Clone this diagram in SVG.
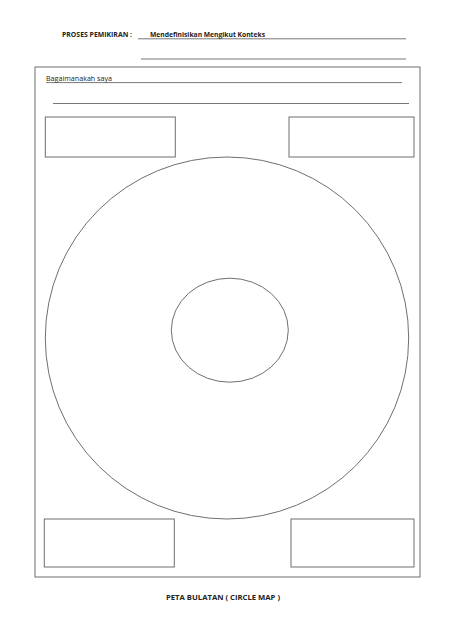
<svg xmlns="http://www.w3.org/2000/svg" width="452" height="640" viewBox="0 0 452 640">
<style>
.shape{fill:none;stroke:#6f6f6f;stroke-width:1}
.rule{stroke:#555;stroke-width:0.8}
.t{font-family:"Open Sans","Liberation Sans",sans-serif;fill:#222}
.b{font-weight:bold}
</style>
<rect width="452" height="640" fill="#fff"/>
<g id="header">
<text class="t b" x="62" y="37" font-size="6.8" textLength="70" lengthAdjust="spacingAndGlyphs">PROSES PEMIKIRAN  :</text>
<text class="t b" x="150" y="37" font-size="6.8" textLength="115" lengthAdjust="spacingAndGlyphs">Mendefinisikan Mengikut Konteks</text>
<line class="rule" x1="138" y1="38.8" x2="406" y2="38.8"/>
<line class="rule" x1="141" y1="59" x2="406" y2="59"/>
</g>
<rect id="frame" class="shape" x="35" y="67" width="385" height="510"/>
<g id="question">
<text class="t" x="46" y="81" font-size="6.8" textLength="66" lengthAdjust="spacingAndGlyphs">Bagaimanakah saya</text>
<line class="rule" x1="46" y1="82.6" x2="402" y2="82.6"/>
<line class="rule" x1="53" y1="103.5" x2="409" y2="103.5"/>
</g>
<g id="box-top-left"><rect class="shape" x="45.3" y="117" width="130" height="40"/></g>
<g id="box-top-right"><rect class="shape" x="289" y="117" width="125" height="40"/></g>
<g id="box-bottom-left"><rect class="shape" x="44.3" y="519" width="130" height="48"/></g>
<g id="box-bottom-right"><rect class="shape" x="291" y="519" width="123" height="48"/></g>
<g id="outer-circle"><ellipse class="shape" cx="227" cy="338" rx="181.7" ry="181"/></g>
<g id="inner-circle"><ellipse class="shape" cx="229.8" cy="330.2" rx="58.5" ry="52"/></g>
<g id="connectors"></g>
<g id="footer">
<text class="t b" x="166" y="600" font-size="6.8" textLength="114" lengthAdjust="spacingAndGlyphs">PETA BULATAN ( CIRCLE MAP )</text>
</g>
</svg>
